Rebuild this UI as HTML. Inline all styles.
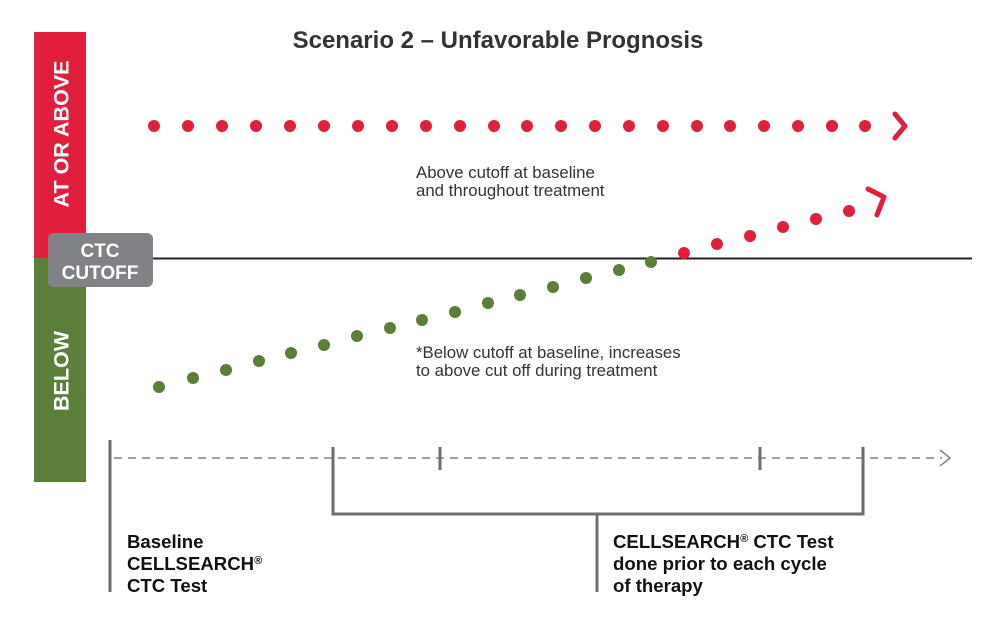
<!DOCTYPE html>
<html><head><meta charset="utf-8"><style>body{margin:0;background:#fff}svg{display:block}text{font-family:"Liberation Sans",Arial,sans-serif}</style></head><body>
<svg width="1000" height="630" viewBox="0 0 1000 630" xmlns="http://www.w3.org/2000/svg">
<rect x="34" y="32" width="52" height="226" fill="#e01f3d"/>
<rect x="34" y="258" width="52" height="224" fill="#5b7f3a"/>
<text transform="translate(68.5,134) rotate(-90)" text-anchor="middle" fill="#fff" font-weight="bold" font-size="21.5">AT OR ABOVE</text>
<text transform="translate(68.5,371) rotate(-90)" text-anchor="middle" fill="#fff" font-weight="bold" font-size="21.5">BELOW</text>
<line x1="150" y1="258.5" x2="972" y2="258.5" stroke="#222" stroke-width="2"/>
<rect x="48" y="233" width="105" height="54" rx="6" fill="#808285"/>
<text x="100" y="257" text-anchor="middle" fill="#fff" font-weight="bold" font-size="19">CTC</text>
<text x="100" y="279" text-anchor="middle" fill="#fff" font-weight="bold" font-size="19">CUTOFF</text>
<text x="498" y="48" text-anchor="middle" fill="#333" font-weight="bold" font-size="24">Scenario 2 – Unfavorable Prognosis</text>
<g fill="#e01f3d">
<circle cx="154" cy="126" r="6"/><circle cx="188" cy="126" r="6"/><circle cx="222" cy="126" r="6"/><circle cx="256" cy="126" r="6"/><circle cx="290" cy="126" r="6"/><circle cx="324" cy="126" r="6"/><circle cx="358" cy="126" r="6"/><circle cx="392" cy="126" r="6"/><circle cx="426" cy="126" r="6"/><circle cx="460" cy="126" r="6"/><circle cx="494" cy="126" r="6"/><circle cx="527" cy="126" r="6"/><circle cx="561" cy="126" r="6"/><circle cx="595" cy="126" r="6"/><circle cx="629" cy="126" r="6"/><circle cx="663" cy="126" r="6"/><circle cx="697" cy="126" r="6"/><circle cx="730" cy="126" r="6"/><circle cx="764" cy="126" r="6"/><circle cx="798" cy="126" r="6"/><circle cx="832" cy="126" r="6"/><circle cx="865" cy="126" r="6"/>
<circle cx="684" cy="253" r="6"/><circle cx="717" cy="244" r="6"/><circle cx="750" cy="236" r="6"/><circle cx="783" cy="227" r="6"/><circle cx="816" cy="219" r="6"/><circle cx="849" cy="211" r="6"/>
</g>
<polyline points="895,114 905,126 895,138" fill="none" stroke="#e01f3d" stroke-width="5" stroke-linecap="round" stroke-linejoin="round"/>
<polyline points="868,189 884,197 877,215" fill="none" stroke="#e01f3d" stroke-width="5" stroke-linecap="round" stroke-linejoin="round"/>
<g fill="#5b7f3a">
<circle cx="159" cy="387" r="6"/><circle cx="193" cy="378" r="6"/><circle cx="226" cy="370" r="6"/><circle cx="259" cy="361" r="6"/><circle cx="291" cy="353" r="6"/><circle cx="324" cy="345" r="6"/><circle cx="357" cy="336" r="6"/><circle cx="390" cy="328" r="6"/><circle cx="422" cy="320" r="6"/><circle cx="455" cy="312" r="6"/><circle cx="488" cy="303" r="6"/><circle cx="520" cy="295" r="6"/><circle cx="553" cy="287" r="6"/><circle cx="586" cy="278" r="6"/><circle cx="619" cy="270" r="6"/><circle cx="651" cy="262" r="6"/>
</g>
<g fill="#333" font-size="16.8">
<text x="416" y="178">Above cutoff at baseline</text>
<text x="416" y="196">and throughout treatment</text>
<text x="416" y="358">*Below cutoff at baseline, increases</text>
<text x="416" y="376">to above cut off during treatment</text>
</g>
<line x1="114" y1="458" x2="942" y2="458" stroke="#808285" stroke-width="1.5" stroke-dasharray="8,6"/>
<polyline points="940,450 950,458 940,466" fill="none" stroke="#808285" stroke-width="1.5"/>
<g stroke="#6d6e71" stroke-width="3" fill="none">
<line x1="110" y1="440" x2="110" y2="592"/>
<polyline points="333,447 333,514 863,514 863,447"/>
<line x1="440" y1="447" x2="440" y2="470"/>
<line x1="760" y1="447" x2="760" y2="470"/>
<line x1="597" y1="514" x2="597" y2="592"/>
</g>
<g fill="#111" font-weight="bold" font-size="18.6">
<text x="127" y="548">Baseline</text>
<text x="127" y="570">CELLSEARCH<tspan font-size="11" dy="-6">®</tspan></text>
<text x="127" y="592">CTC Test</text>
<text x="613" y="548">CELLSEARCH<tspan font-size="11" dy="-6">®</tspan><tspan dy="6"> CTC Test</tspan></text>
<text x="613" y="570">done prior to each cycle</text>
<text x="613" y="592">of therapy</text>
</g>
</svg>
</body></html>
